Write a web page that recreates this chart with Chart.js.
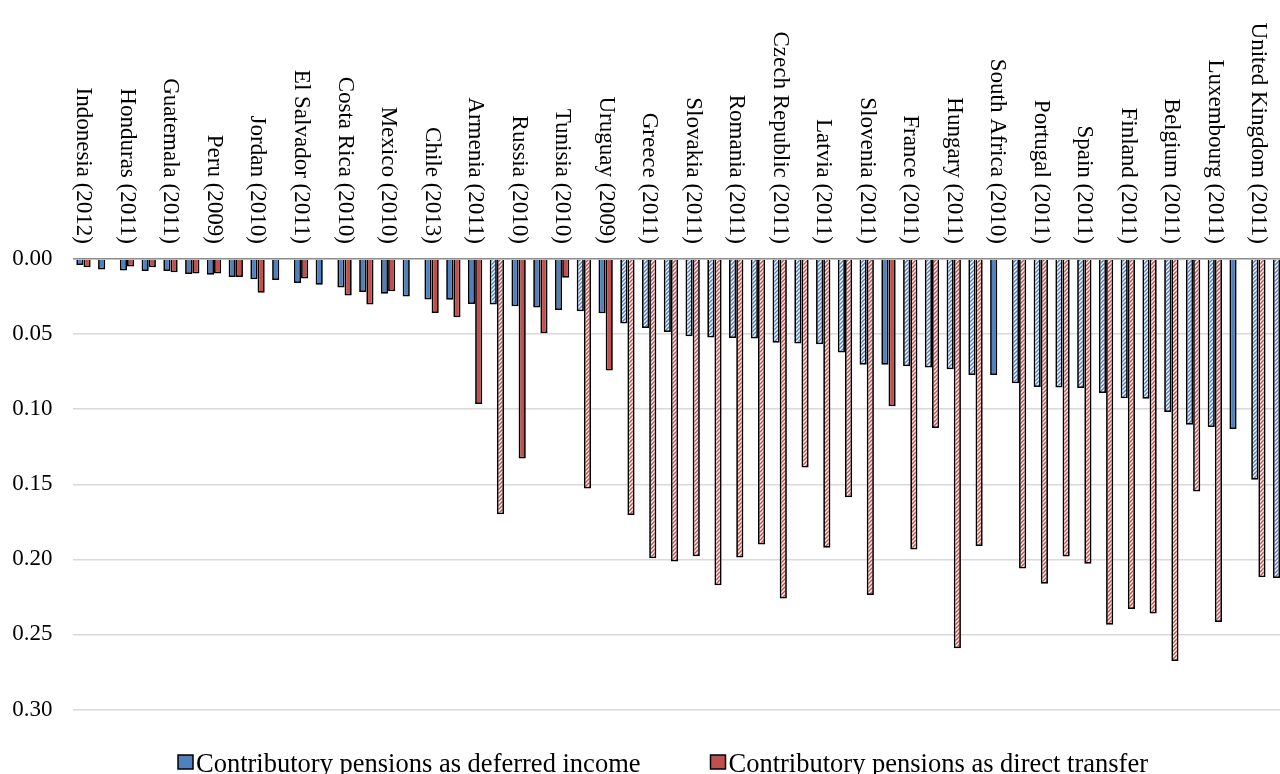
<!DOCTYPE html>
<html>
<head>
<meta charset="utf-8">
<script src="https://cdn.jsdelivr.net/npm/chart.js@4/dist/chart.umd.min.js"></script>
<style>
  html, body { margin: 0; padding: 0; background: #fff; overflow: hidden; }
  #wrap { width: 1291px; height: 774px; }
</style>
</head>
<body>
<div id="wrap"><canvas id="chart" width="1291" height="774"></canvas></div>
<script>
// every second category carries a label, like in the source chart
const categories = [
  'Indonesia (2012)', '', 'Honduras (2011)', '', 'Guatemala (2011)', '', 'Peru (2009)', '',
  'Jordan (2010)', '', 'El Salvador (2011)', '', 'Costa Rica (2010)', '', 'Mexico (2010)', '',
  'Chile (2013)', '', 'Armenia (2011)', '', 'Russia (2010)', '', 'Tunisia (2010)', '',
  'Uruguay (2009)', '', 'Greece (2011)', '', 'Slovakia (2011)', '', 'Romania (2011)', '',
  'Czech Republic (2011)', '', 'Latvia (2011)', '', 'Slovenia (2011)', '', 'France (2011)', '',
  'Hungary (2011)', '', 'South Africa (2010)', '', 'Portugal (2011)', '', 'Spain (2011)', '',
  'Finland (2011)', '', 'Belgium (2011)', '', 'Luxembourg (2011)', '', 'United Kingdom (2011)', ''
]

const deferredIncome = [
  0.004, 0.007, 0.0077, 0.008, 0.008, 0.010, 0.0105, 0.012,
  0.0135, 0.014, 0.016, 0.0172, 0.019, 0.0219, 0.0232, 0.025,
  0.027, 0.0272, 0.030, 0.0303, 0.0315, 0.0323, 0.0339, 0.0348,
  0.0361, 0.043, 0.046, 0.0486, 0.0514, 0.0523, 0.0526, 0.053,
  0.0557, 0.0563, 0.0568, 0.0623, 0.0705, 0.0705, 0.0714, 0.0723,
  0.0734, 0.0772, 0.0772, 0.0828, 0.0852, 0.0855, 0.0859, 0.0892,
  0.0928, 0.093, 0.1019, 0.1103, 0.1119, 0.1132, 0.147, 0.2125
]

const directTransfer = [
  0.0055, null, 0.005, 0.0055, 0.0088, 0.0097, 0.0097, 0.012,
  0.0225, null, 0.013, null, 0.0243, 0.0303, 0.0215, null,
  0.036, 0.0388, 0.0965, 0.170, 0.1328, 0.0495, 0.0125, 0.1528,
  0.0743, 0.1705, 0.1992, 0.2015, 0.1979, 0.2172, 0.1988, 0.1901,
  0.2261, 0.1388, 0.1923, 0.1586, 0.2237, 0.098, 0.1935, 0.1125,
  0.2592, 0.1912, null, 0.2061, 0.2163, 0.1981, 0.203, 0.2435,
  0.233, 0.2361, 0.2677, 0.1548, 0.2417, null, 0.2119, 0.262
]

// categories shown with a patterned fill in the source (1 = patterned)
const patterned = [
  0, 0, 0, 0, 0, 0, 0, 0, 0, 0, 0, 0, 0, 0, 0, 0,
  0, 0, 0, 1, 0, 0, 0, 1, 0, 1, 1, 1, 1, 1, 1, 1,
  1, 1, 1, 1, 1, 0, 1, 1, 1, 1, 0, 1, 1, 1, 1, 1,
  1, 1, 1, 1, 1, 0, 1, 1
]

const yTicks = [0, 0.05, 0.10, 0.15, 0.20, 0.25, 0.30]

const BLUE = '#4F81BD'
const RED = '#C0504D'
const SERIF = '"Liberation Serif", "DejaVu Serif", serif'

function stripes (color) {
  const c = document.createElement('canvas')
  c.width = 4
  c.height = 4
  const g = c.getContext('2d')
  g.fillStyle = '#fff'
  g.fillRect(0, 0, 4, 4)
  g.strokeStyle = color
  g.lineWidth = 1.5
  g.beginPath()
  g.moveTo(-1, 5); g.lineTo(5, -1)
  g.moveTo(-1, 1); g.lineTo(1, -1)
  g.moveTo(3, 5); g.lineTo(5, 3)
  g.stroke()
  return g.createPattern(c, 'repeat')
}

const blueFill = patterned.map(p => p ? stripes(BLUE) : BLUE)
const redFill = patterned.map(p => p ? stripes(RED) : RED)

const topLabels = {
  id: 'topLabels',
  afterDraw (chart) {
    const ctx = chart.ctx
    const x = chart.scales.x
    ctx.save()
    ctx.fillStyle = '#000'
    ctx.font = '23px ' + SERIF
    ctx.textAlign = 'right'
    ctx.textBaseline = 'middle'
    categories.forEach((name, i) => {
      if (!name) return
      ctx.save()
      ctx.translate(x.getPixelForValue(i), chart.chartArea.top - 15)
      ctx.rotate(Math.PI / 2)
      ctx.fillText(name, 0, 0)
      ctx.restore()
    })
    ctx.restore()
  }
}

const bottomLegend = {
  id: 'bottomLegend',
  afterDraw (chart) {
    const ctx = chart.ctx
    ctx.save()
    ctx.font = '26.5px ' + SERIF
    ctx.textBaseline = 'alphabetic'
    const items = chart.data.datasets.map(d => ({ text: d.label, color: d.legendColor }))
    const box = 15
    const gap = 3
    const between = 70
    const widths = items.map(it => box + gap + ctx.measureText(it.text).width)
    const total = widths.reduce((a, b) => a + b, 0) + between * (items.length - 1)
    let x = 663 - total / 2
    const base = 772
    items.forEach((it, i) => {
      ctx.fillStyle = it.color
      ctx.fillRect(x, base - 17, box, 14)
      ctx.strokeStyle = '#000'
      ctx.lineWidth = 1.5
      ctx.strokeRect(x, base - 17, box, 14)
      ctx.fillStyle = '#000'
      ctx.fillText(it.text, x + box + gap, base)
      x += widths[i] + between
    })
    ctx.restore()
  }
}

new Chart(document.getElementById('chart'), {
  type: 'bar',
  data: {
    labels: categories,
    datasets: [
      {
        label: 'Contributory pensions as deferred income',
        data: deferredIncome,
        backgroundColor: blueFill,
        legendColor: BLUE,
        borderColor: '#000',
        borderWidth: 1.75,
        categoryPercentage: 0.66,
        barPercentage: 1
      },
      {
        label: 'Contributory pensions as direct transfer',
        data: directTransfer,
        backgroundColor: redFill,
        legendColor: RED,
        borderColor: '#000',
        borderWidth: 1.75,
        categoryPercentage: 0.66,
        barPercentage: 1
      }
    ]
  },
  options: {
    responsive: false,
    animation: false,
    layout: { padding: { top: 259, bottom: 64.5, left: 0, right: 0 } },
    plugins: {
      legend: { display: false },
      tooltip: { enabled: false }
    },
    scales: {
      x: { display: false },
      y: {
        reverse: true,
        min: 0,
        max: 0.30,
        afterFit (scale) { scale.width = 72.6 },
        afterBuildTicks (scale) { scale.ticks = yTicks.map(v => ({ value: v })) },
        border: { display: false },
        grid: {
          drawTicks: false,
          lineWidth: 1.5,
          color: ctx => ctx.tick && ctx.tick.value === 0 ? '#8c8c8c' : '#d9d9d9'
        },
        ticks: {
          padding: 20,
          color: '#000',
          font: { family: SERIF, size: 23 },
          callback: v => Number(v).toFixed(2)
        }
      }
    }
  },
  plugins: [topLabels, bottomLegend]
})
</script>
</body>
</html>
